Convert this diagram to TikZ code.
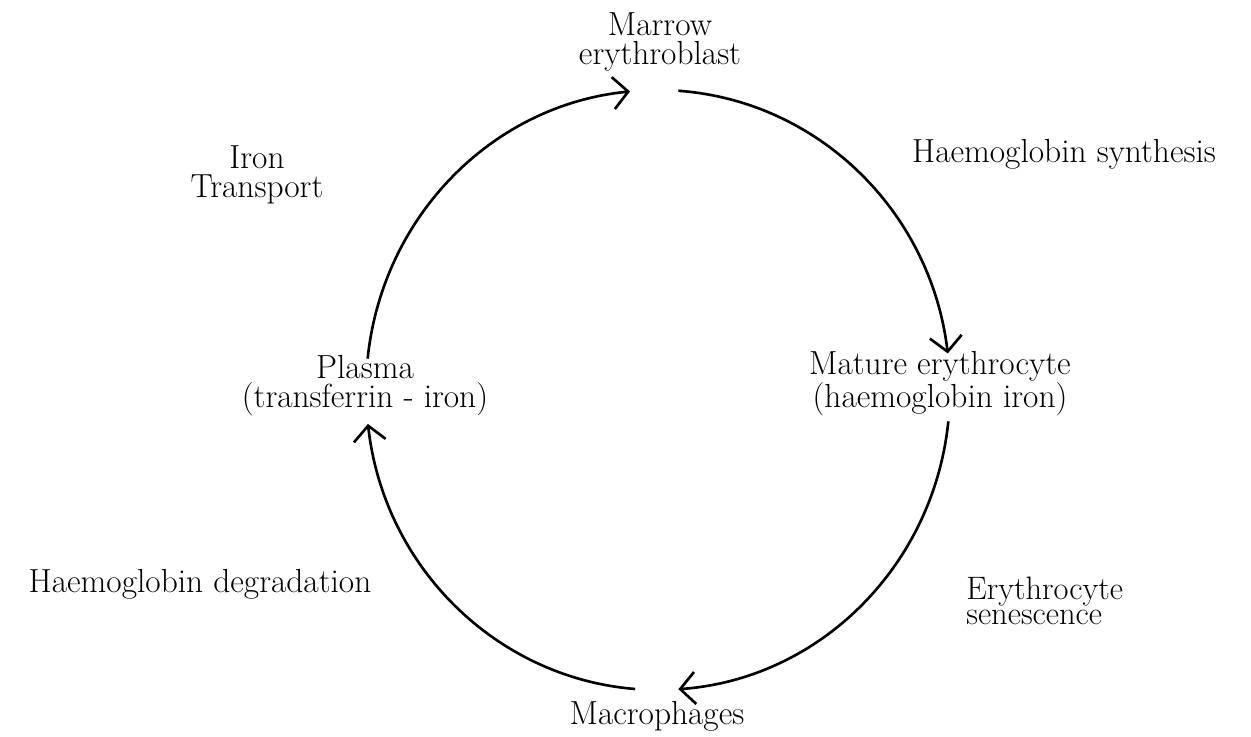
\documentclass[tikz,border=0pt]{standalone}
\usetikzlibrary{arrows.meta}

\begin{document}
\begin{tikzpicture}[x=0.02cm, y=0.02cm, font=\fontsize{19}{17}\selectfont,
  lbl/.style={align=center, inner sep=0pt, anchor=base},
  cyc/.style={line width=1.5pt, -{Straight Barb[length=0.3cm, width=0.64cm]}}]
  \useasboundingbox (0,0) rectangle (1251,737);
  \coordinate (ctr) at (658,347);
  \node[lbl] (marrow) at (660,672) {Marrow\\erythroblast};
  \node[lbl] (mature) at (940,329) {Mature erythrocyte\\(haemoglobin iron)};
  \node[lbl] (macro) at (657,12) {Macrophages};
  \node[lbl] (plasma) at (365,329) {Plasma\\(transferrin - iron)};
  \node[lbl] (synth) at (1064,574) {Haemoglobin synthesis};
  \node[lbl, align=left, anchor=base west, font=\fontsize{18.5}{14.5}\selectfont] (senesc) at (966,112) {Erythrocyte\\senescence};
  \node[lbl] (degrad) at (200,144) {Haemoglobin degradation};
  \node[lbl] (iron) at (257,539) {Iron\\Transport};
  % the cycle
  \draw[cyc] ([shift={(174:5.84cm and 6cm)}]ctr) arc[start angle=174, end angle=95.5, x radius=5.84cm, y radius=6cm];
  \draw[cyc] ([shift={(86:5.84cm and 6cm)}]ctr) arc[start angle=86, end angle=7, x radius=5.84cm, y radius=6cm];
  \draw[cyc] ([shift={(-6:5.84cm and 6cm)}]ctr) arc[start angle=-6, end angle=-86, x radius=5.84cm, y radius=6cm];
  \draw[cyc] ([shift={(-94.5:5.84cm and 6cm)}]ctr) arc[start angle=-94.5, end angle=-173.5, x radius=5.84cm, y radius=6cm];
\end{tikzpicture}
\end{document}
